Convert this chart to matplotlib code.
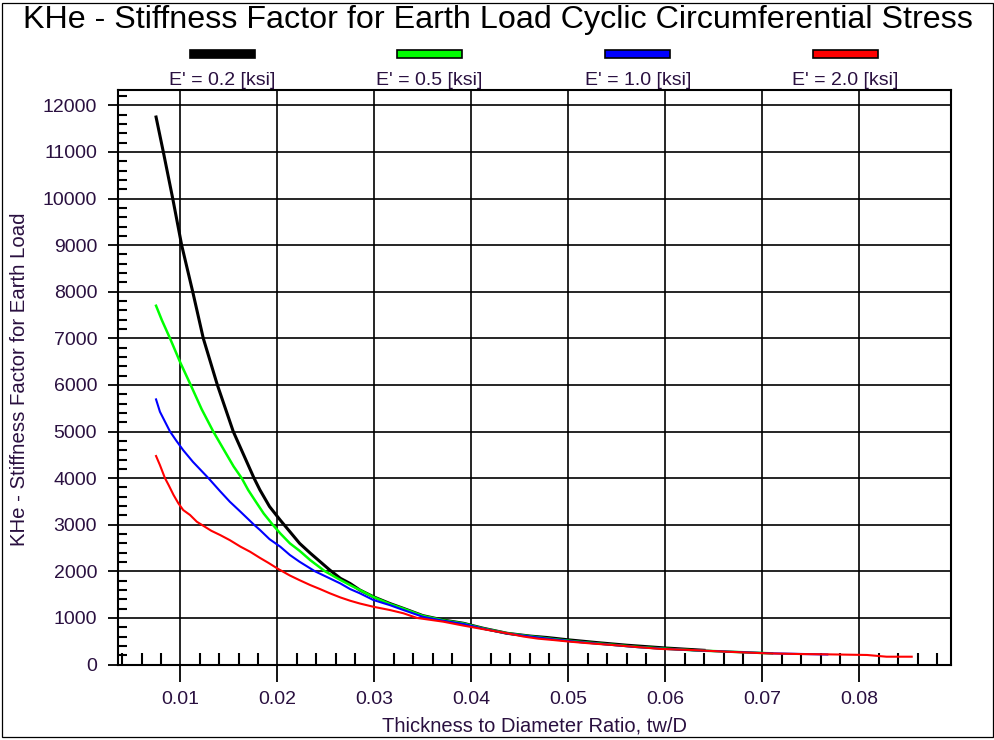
import matplotlib
matplotlib.use("Agg")
import matplotlib.pyplot as plt
from matplotlib.ticker import MultipleLocator, FormatStrFormatter
from matplotlib.patches import Rectangle

plt.rcParams['font.family'] = ['Liberation Sans', 'DejaVu Sans']

title = "KHe - Stiffness Factor for Earth Load Cyclic Circumferential Stress"
xlabel = "Thickness to Diameter Ratio, tw/D"
ylabel = "KHe - Stiffness Factor for Earth Load"
series_labels = ["E' = 0.2 [ksi]", "E' = 0.5 [ksi]", "E' = 1.0 [ksi]", "E' = 2.0 [ksi]"]
series_colors = ["#000000", "#00ff00", "#0000ff", "#ff0000"]

x_e02 = [0.0075, 0.00825, 0.00922, 0.01014, 0.01128, 0.01237, 0.01382, 0.01546, 0.0176, 0.0182,
         0.0192, 0.0203, 0.0213, 0.0223, 0.0234, 0.0244, 0.0254, 0.0265, 0.0275, 0.0285,
         0.0299, 0.0316, 0.0330, 0.0350, 0.0371, 0.0392, 0.0412, 0.0437, 0.0461, 0.0478,
         0.0500, 0.0530, 0.0560, 0.0600, 0.0640]
y_e02 = [11750, 11000, 10000, 9000, 8000, 7000, 6000, 5000, 4000, 3750,
         3390, 3100, 2850, 2600, 2390, 2210, 2030, 1850, 1740, 1600,
         1455, 1310, 1205, 1050, 955, 885, 780, 670, 610, 580,
         530, 470, 415, 355, 305]

x_e05 = [0.0075, 0.0081, 0.00894, 0.0100, 0.01107, 0.0122, 0.0134, 0.0146,
         0.0155, 0.01633, 0.0170, 0.0178, 0.0186, 0.01953, 0.0203, 0.0213, 0.0223, 0.0234,
         0.02492, 0.0265, 0.0275, 0.0285, 0.0299, 0.0316, 0.0330, 0.0350, 0.0371, 0.0392,
         0.0412, 0.0437, 0.0461, 0.0485, 0.0510, 0.0540, 0.0570, 0.0600, 0.0630, 0.0667,
         0.0710]
y_e05 = [7700, 7390, 7000, 6480, 6000, 5480, 5000, 4570,
         4250, 4000, 3745, 3490, 3240, 3000, 2815, 2600, 2440, 2240,
         2000, 1815, 1705, 1600, 1450, 1300, 1200, 1045, 950, 880,
         775, 670, 605, 545, 490, 435, 380, 340, 305, 275,
         240]

x_e10 = [0.0075, 0.0079, 0.00894, 0.0096, 0.0103, 0.0113, 0.0129, 0.0141, 0.0151, 0.0162,
         0.0176, 0.0182, 0.0192, 0.0203, 0.0213, 0.0223, 0.02389, 0.0254, 0.0265, 0.0275,
         0.0285, 0.0299, 0.0316, 0.0330, 0.0350, 0.0371, 0.0392, 0.0412, 0.0437, 0.0461,
         0.0485, 0.0510, 0.0540, 0.0570, 0.0600, 0.0630, 0.0667, 0.0710, 0.0767]
y_e10 = [5690, 5425, 5000, 4800, 4600, 4350, 4000, 3720, 3495, 3280,
         3000, 2890, 2690, 2530, 2350, 2205, 2000, 1850, 1740, 1620,
         1530, 1385, 1275, 1170, 1025, 940, 870, 770, 665, 600,
         540, 485, 430, 375, 335, 305, 275, 240, 215]

x_e20 = [0.0075, 0.0079, 0.00842, 0.0088, 0.0093, 0.0098, 0.0103, 0.0110, 0.0117, 0.0122,
         0.0132, 0.0141, 0.0151, 0.0162, 0.0172, 0.0182, 0.0191, 0.0201, 0.0213, 0.0223,
         0.0234, 0.0244, 0.0254, 0.0265, 0.0275, 0.0285, 0.0299, 0.0316, 0.0330, 0.0344,
         0.0371, 0.0392, 0.0412, 0.0437, 0.0454, 0.0469, 0.0485, 0.0502, 0.0522, 0.0546,
         0.0567, 0.0595, 0.0629, 0.0663, 0.0705, 0.0739, 0.0763, 0.0808, 0.0828, 0.0854]
y_e20 = [4475, 4280, 4000, 3850, 3640, 3460, 3315, 3210, 3065, 3000,
         2870, 2780, 2670, 2530, 2420, 2290, 2180, 2050, 1910, 1810,
         1705, 1620, 1530, 1440, 1370, 1310, 1240, 1170, 1100, 1000,
         920, 835, 760, 670, 600, 555, 525, 490, 455, 418,
         382, 335, 310, 275, 240, 225, 220, 205, 168, 168]

series_x = [x_e02, x_e05, x_e10, x_e20]
series_y = [y_e02, y_e05, y_e10, y_e20]
line_widths = [2.2, 1.8, 1.5, 1.5]

W, H = 995, 740
fig = plt.figure(figsize=(W / 100, H / 100), dpi=100)
fig.patch.set_facecolor('white')
ax = fig.add_axes([118 / W, 1 - 665 / H, (951 - 118) / W, (665 - 90) / H])

ax.set_xlim(0.003577, 0.08945)
ax.set_ylim(-10, 12330)

ax.xaxis.set_major_locator(MultipleLocator(0.01))
ax.xaxis.set_minor_locator(MultipleLocator(0.002))
ax.yaxis.set_major_locator(MultipleLocator(1000))
ax.yaxis.set_minor_locator(MultipleLocator(200))
ax.xaxis.set_major_formatter(FormatStrFormatter('%.2f'))
ax.yaxis.set_major_formatter(FormatStrFormatter('%d'))

ax.grid(which='major', color='black', linewidth=1.2)
ax.set_axisbelow(True)

ax.tick_params(axis='x', which='major', direction='out', length=12, width=1.3, pad=7,
               labelsize=14)
ax.tick_params(axis='x', which='minor', direction='in', length=8.5, width=1.5)
ax.tick_params(axis='y', which='major', direction='out', length=7, width=1.3, pad=8,
               labelsize=14)
ax.tick_params(axis='y', which='minor', direction='in', length=6.5, width=1.5)
for tl in ax.get_xticklabels() + ax.get_yticklabels():
    tl.set_color('#2a1040')

for s in ax.spines.values():
    s.set_linewidth(1.5)
    s.set_color('black')

for xs, ys, c, lw in zip(series_x, series_y, series_colors, line_widths):
    ax.plot(xs, ys, color=c, linewidth=lw, solid_joinstyle='miter')

fig.text(498 / W, 1 - 28 / H, title, ha='center', va='baseline', fontsize=23.2, color='black')
fig.text(534.5 / W, 1 - 731.5 / H, xlabel, ha='center', va='baseline', fontsize=14.5, color='#2a1040')
fig.text(19.5 / W, 1 - 379 / H, ylabel, ha='center', va='center', rotation=90, fontsize=14.7,
         color='#2a1040')

legend_centers = [222.5, 429.5, 638, 845]
for cx, lab, c in zip(legend_centers, series_labels, series_colors):
    fig.add_artist(Rectangle(((cx - 32.5) / W, 1 - 57.7 / H), 65 / W, 7.7 / H,
                             transform=fig.transFigure, facecolor=c, edgecolor='black',
                             linewidth=1.2))
    fig.text(cx / W, 1 - 85 / H, lab, ha='center', va='baseline', fontsize=14, color='#2a1040')

fig.add_artist(Rectangle((2.5 / W, 3 / H), (993 - 2.5) / W, (737 - 3) / H,
                         transform=fig.transFigure, facecolor='none', edgecolor='black',
                         linewidth=0.9))

fig.savefig("out.png", dpi=100)
